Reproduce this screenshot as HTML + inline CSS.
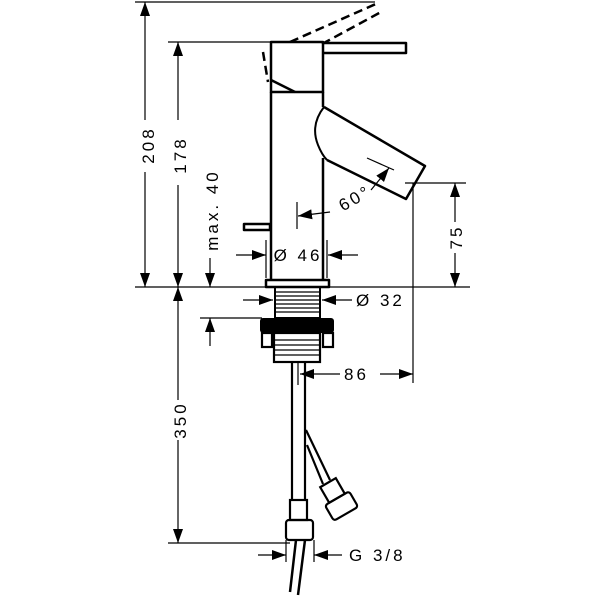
<!DOCTYPE html>
<html><head><meta charset="utf-8"><style>
html,body{margin:0;padding:0;background:#fff;}
svg{display:block;}
text{font-family:"Liberation Sans",sans-serif;font-size:17px;fill:#000;letter-spacing:3px;}
</style></head><body>
<svg width="600" height="600" viewBox="0 0 600 600" xmlns="http://www.w3.org/2000/svg">
<defs>
<marker id="a" viewBox="0 0 14 10" refX="14" refY="5" markerWidth="14" markerHeight="10" markerUnits="userSpaceOnUse" orient="auto"><path d="M0,0 L14,5 L0,10 z" fill="#000"/></marker>
</defs>
<g stroke="#000" stroke-width="1.2" fill="none">
<line x1="135" y1="2" x2="375" y2="2"/>
<line x1="168" y1="42" x2="272" y2="42"/>
<line x1="135" y1="287" x2="470" y2="287"/>
<line x1="405" y1="183" x2="466" y2="183"/>
<line x1="413" y1="183" x2="413" y2="383"/>
<line x1="200" y1="318" x2="262" y2="318"/>
<line x1="168" y1="543" x2="290" y2="543"/>
<line x1="145" y1="120" x2="145" y2="2" marker-end="url(#a)"/>
<line x1="145" y1="172" x2="145" y2="287" marker-end="url(#a)"/>
<line x1="178" y1="120" x2="178" y2="42" marker-end="url(#a)"/>
<line x1="178" y1="185" x2="178" y2="287" marker-end="url(#a)"/>
<line x1="210" y1="258" x2="210" y2="287" marker-end="url(#a)"/>
<line x1="178" y1="400" x2="178" y2="287" marker-end="url(#a)"/>
<line x1="178" y1="440" x2="178" y2="543" marker-end="url(#a)"/>
<line x1="210" y1="346" x2="210" y2="318" marker-end="url(#a)"/>
<line x1="455" y1="222" x2="455" y2="183" marker-end="url(#a)"/>
<line x1="455" y1="253" x2="455" y2="287" marker-end="url(#a)"/>
<line x1="340" y1="374" x2="300" y2="374" marker-end="url(#a)"/>
<line x1="380" y1="374" x2="413" y2="374" marker-end="url(#a)"/>
<line x1="298" y1="362" x2="298" y2="385"/>
<line x1="236" y1="255" x2="266" y2="255" marker-end="url(#a)"/>
<line x1="358" y1="255" x2="328" y2="255" marker-end="url(#a)"/>
<line x1="266" y1="240" x2="266" y2="278"/>
<line x1="327" y1="240" x2="327" y2="278"/>
<line x1="243" y1="300" x2="273" y2="300" marker-end="url(#a)"/>
<line x1="352" y1="300" x2="322" y2="300" marker-end="url(#a)"/>
<line x1="258" y1="555" x2="286" y2="555" marker-end="url(#a)"/>
<line x1="342" y1="555" x2="314" y2="555" marker-end="url(#a)"/>
<line x1="286" y1="540" x2="286" y2="562"/>
<line x1="314" y1="540" x2="314" y2="562"/>
<line x1="297" y1="202" x2="297" y2="229"/>
<line x1="330" y1="212" x2="298" y2="216" marker-end="url(#a)"/>
<line x1="371" y1="190" x2="389" y2="168" marker-end="url(#a)"/>
<line x1="367" y1="158" x2="394" y2="170"/>
</g>
<g stroke="#000" stroke-width="2.5" fill="none" stroke-linejoin="round">
<path d="M271,92 L271,280 M323,92 L323,107 M323,158 L323,280"/>
<rect x="271" y="42" width="52" height="50"/>
<path d="M324,43 L406,43 L406,53 L324,53"/>
<path d="M271,80 L295,92"/>
<path d="M324,107 L425,166 L406,199 L327,160"/>
<path d="M324,107 Q310,125 318,145 Q322,155 327,160" stroke-width="2"/>
<rect x="244" y="224" width="26" height="6"/>
<rect x="266" y="280" width="63" height="7"/>
</g>
<g stroke="#000" stroke-width="2.5" fill="none" stroke-dasharray="9,5">
<path d="M290,42 L378,3"/>
<path d="M322,44 L381,12"/>
<path d="M263,52 L268,82"/>
</g>
<g stroke="#000" stroke-width="1.3" fill="none">
<rect x="275" y="287" width="45" height="31" stroke-width="2"/>
<path d="M275,292H320M275,296H320M275,300H320M275,304H320M275,308H320M275,312H320"/>
<rect x="274" y="333" width="46" height="29" stroke-width="2.2"/>
<path d="M274,340H320M274,345H320M274,350H320M274,355H320"/>
<rect x="262" y="333" width="10" height="14" stroke-width="2.2"/>
<rect x="323" y="333" width="10" height="14" stroke-width="2.2"/>
</g>
<rect x="260" y="318" width="74" height="15" rx="3" fill="#000"/>
<g stroke="#000" stroke-width="2.2" fill="none">
<path d="M292,362 L292,500 M305,362 L305,500"/>
<path d="M306,430 L330,480 M307,445 L323,484"/>
<rect x="290" y="500" width="17" height="20"/>
<rect x="286" y="520" width="27" height="20" rx="3"/>
<path d="M296,540 L290,592 M305,540 L298,595" stroke-width="2.5"/>
<g transform="translate(338,500) rotate(-30)">
<rect x="-9" y="-20" width="18" height="18"/>
<rect x="-14" y="-2" width="28" height="18" rx="3"/>
</g>
</g>
<text transform="translate(154,145) rotate(-90)" text-anchor="middle">208</text>
<text transform="translate(186,155) rotate(-90)" text-anchor="middle">178</text>
<text transform="translate(218,210) rotate(-90)" text-anchor="middle">max. 40</text>
<text transform="translate(186,420) rotate(-90)" text-anchor="middle">350</text>
<text transform="translate(462,237) rotate(-90)" text-anchor="middle">75</text>
<text x="298" y="261" text-anchor="middle">Ø 46</text>
<text x="356" y="306">Ø 32</text>
<text x="344" y="380">86</text>
<text x="349" y="561">G 3/8</text>
<text transform="translate(358,203) rotate(-30)" text-anchor="middle">60°</text>
</svg>
</body></html>
